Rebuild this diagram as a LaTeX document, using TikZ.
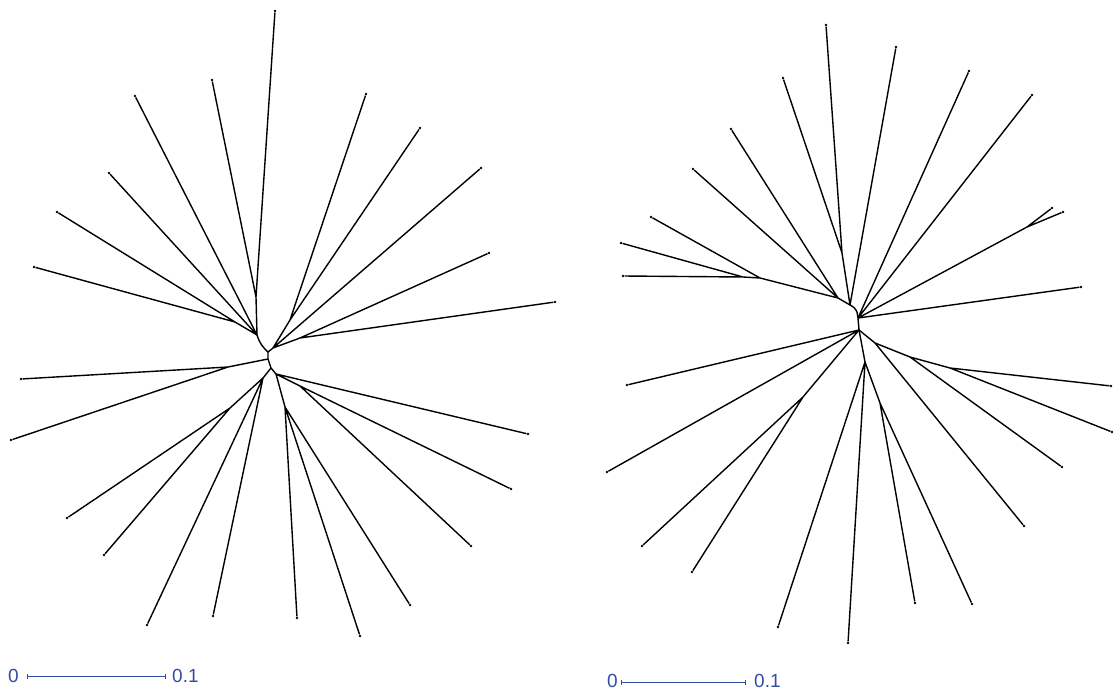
\documentclass[tikz,border=0pt]{standalone}
\usepackage{fontspec}
\setmainfont{Liberation Sans}
\usepackage{tikz}
\usetikzlibrary{positioning, arrows.meta}

\definecolor{scaleblue}{RGB}{50,78,160}
\tikzset{
  branch/.style={line width=1.4pt, black, line join=round},
  leaf/.style={circle, fill=black, inner sep=0pt, minimum size=2.8pt},
  scalebar/.style={line width=1pt, scaleblue, {Bar[width=5pt]}-{Bar[width=5pt]}},
  scalelabel/.style={text=scaleblue, font=\fontsize{19}{21}\selectfont, inner sep=0pt}
}

\begin{document}
\begin{tikzpicture}[x=1pt, y=-1pt]
  \useasboundingbox (0,0) rectangle (1113,690);

  % left tree, leaves
  \node[leaf] (a1) at (275,11) {};
  \node[leaf] (a2) at (212,80) {};
  \node[leaf] (a3) at (135,96) {};
  \node[leaf] (a4) at (109,173) {};
  \node[leaf] (a5) at (57,212) {};
  \node[leaf] (a6) at (34,267) {};
  \node[leaf] (a7) at (366,94) {};
  \node[leaf] (a8) at (420,128) {};
  \node[leaf] (a9) at (481,168) {};
  \node[leaf] (a10) at (489,253) {};
  \node[leaf] (a11) at (555,302) {};
  \node[leaf] (a12) at (21,379) {};
  \node[leaf] (a13) at (11,440) {};
  \node[leaf] (a14) at (67,518) {};
  \node[leaf] (a15) at (104,555) {};
  \node[leaf] (a16) at (147,625) {};
  \node[leaf] (a17) at (213,616) {};
  \node[leaf] (a18) at (528,434) {};
  \node[leaf] (a19) at (511,489) {};
  \node[leaf] (a20) at (471,546) {};
  \node[leaf] (a21) at (297,618) {};
  \node[leaf] (a22) at (360,636) {};
  \node[leaf] (a23) at (410,605) {};

  % left tree, inner nodes
  \coordinate (aA) at (268,352);
  \coordinate (aU) at (257,335);
  \coordinate (aU1) at (256,297);
  \coordinate (aU2) at (235,322);
  \coordinate (aR) at (273,348);
  \coordinate (aR1) at (290,320);
  \coordinate (aR2) at (300,338);
  \coordinate (aB) at (268,359);
  \coordinate (aL1) at (228,367);
  \coordinate (aC) at (271,368);
  \coordinate (aL3) at (263,378);
  \coordinate (aL2) at (230,408);
  \coordinate (aD) at (276,374);
  \coordinate (aR3) at (300,386);
  \coordinate (aE) at (285,407);

  \draw[branch] (aA) to[bend left=15] (aU);
  \draw[branch] (aU) -- (aU1) (aU1) -- (a1) (aU1) -- (a2);
  \draw[branch] (aU) -- (a3) (aU) -- (a4) (aU) -- (aU2);
  \draw[branch] (aU2) -- (a5) (aU2) -- (a6);
  \draw[branch] (aA) -- (aR) (aR) -- (aR1) (aR) -- (a9) (aR) -- (aR2);
  \draw[branch] (aR1) -- (a7) (aR1) -- (a8);
  \draw[branch] (aR2) -- (a10) (aR2) -- (a11);
  \draw[branch] (aA) -- (aB) (aB) -- (aL1) (aB) -- (aC);
  \draw[branch] (aL1) -- (a12) (aL1) -- (a13);
  \draw[branch] (aC) -- (aL3) (aL3) -- (aL2) (aL3) -- (a16) (aL3) -- (a17);
  \draw[branch] (aL2) -- (a14) (aL2) -- (a15);
  \draw[branch] (aC) -- (aD) (aD) -- (a18) (aD) -- (aR3) (aD) -- (aE);
  \draw[branch] (aR3) -- (a19) (aR3) -- (a20);
  \draw[branch] (aE) -- (a21) (aE) -- (a22) (aE) -- (a23);

  % right tree, leaves
  \node[leaf] (b1) at (826,25) {};
  \node[leaf] (b2) at (783,78) {};
  \node[leaf] (b3) at (896,47) {};
  \node[leaf] (b4) at (731,129) {};
  \node[leaf] (b5) at (693,169) {};
  \node[leaf] (b6) at (651,217) {};
  \node[leaf] (b7) at (621,243) {};
  \node[leaf] (b8) at (623,276) {};
  \node[leaf] (b9) at (969,71) {};
  \node[leaf] (b10) at (1032,95) {};
  \node[leaf] (b11) at (1052,208) {};
  \node[leaf] (b12) at (1063,212) {};
  \node[leaf] (b13) at (1081,287) {};
  \node[leaf] (b14) at (627,385) {};
  \node[leaf] (b15) at (607,472) {};
  \node[leaf] (b16) at (642,546) {};
  \node[leaf] (b17) at (692,572) {};
  \node[leaf] (b18) at (1024,526) {};
  \node[leaf] (b19) at (1062,467) {};
  \node[leaf] (b20) at (1111,386) {};
  \node[leaf] (b21) at (1112,432) {};
  \node[leaf] (b22) at (778,627) {};
  \node[leaf] (b23) at (848,643) {};
  \node[leaf] (b24) at (915,603) {};
  \node[leaf] (b25) at (972,604) {};

  % right tree, inner nodes
  \coordinate (bUH) at (850,305);
  \coordinate (bUA) at (842,253);
  \coordinate (bUB) at (838,298);
  \coordinate (bW) at (760,278);
  \coordinate (bW2) at (743,277);
  \coordinate (bP) at (857,312);
  \coordinate (bRH) at (858,318);
  \coordinate (bRB) at (1027,227);
  \coordinate (bH) at (859,330);
  \coordinate (bLL) at (803,397);
  \coordinate (bRL1) at (875,343);
  \coordinate (bRL2) at (910,357);
  \coordinate (bRL3) at (950,368);
  \coordinate (bRD) at (865,362);
  \coordinate (bRD2) at (880,403);

  \draw[branch] (bUH) to[bend left=20] (bP);
  \draw[branch] (bUH) -- (bUA) (bUA) -- (b1) (bUA) -- (b2);
  \draw[branch] (bUH) -- (b3) (bUH) -- (bUB);
  \draw[branch] (bUB) -- (b4) (bUB) -- (b5) (bUB) -- (bW);
  \draw[branch] (bW) -- (b6) (bW) -- (bW2) (bW2) -- (b7) (bW2) -- (b8);
  \draw[branch] (bP) -- (bRH) (bRH) -- (bH);
  \draw[branch] (bRH) -- (b9) (bRH) -- (b10) (bRH) -- (bRB) (bRH) -- (b13);
  \draw[branch] (bRB) -- (b11) (bRB) -- (b12);
  \draw[branch] (bH) -- (b14) (bH) -- (b15) (bH) -- (bLL);
  \draw[branch] (bLL) -- (b16) (bLL) -- (b17);
  \draw[branch] (bH) -- (bRL1) (bRL1) -- (b18) (bRL1) -- (bRL2);
  \draw[branch] (bRL2) -- (b19) (bRL2) -- (bRL3) (bRL3) -- (b20) (bRL3) -- (b21);
  \draw[branch] (bH) -- (bRD) (bRD) -- (b22) (bRD) -- (b23) (bRD) -- (bRD2);
  \draw[branch] (bRD2) -- (b24) (bRD2) -- (b25);

  % scale bars
  \coordinate (sa1) at (27,676);
  \coordinate (sa2) at (166,676);
  \draw[scalebar] (sa1) -- (sa2);
  \node[scalelabel, left=8pt of sa1] (sa0) {0};
  \node[scalelabel, right=6pt of sa2] (sat) {0.1};

  \coordinate (sb1) at (621,682);
  \coordinate (sb2) at (746,682);
  \draw[scalebar] (sb1) -- (sb2);
  \node[scalelabel, left=3pt of sb1, yshift=1.5pt] (sb0) {0};
  \node[scalelabel, right=8pt of sb2, yshift=1.5pt] (sbt) {0.1};
\end{tikzpicture}
\end{document}
